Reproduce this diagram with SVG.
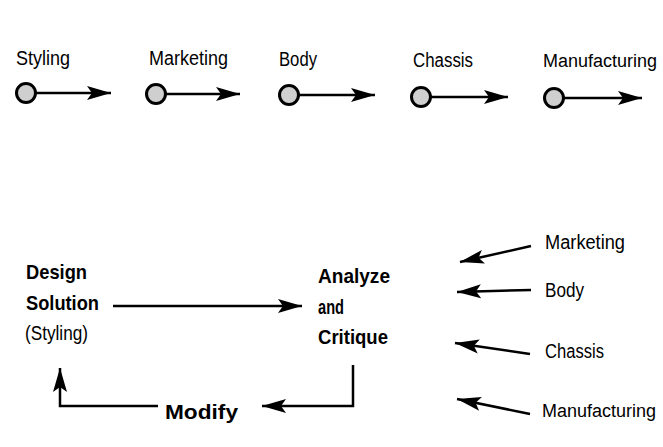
<svg xmlns="http://www.w3.org/2000/svg" width="663" height="447" viewBox="0 0 663 447">
<style>
.t{font-family:"Liberation Sans",Arial,sans-serif;font-size:20px;fill:#000}
.m{font-family:"Liberation Sans",Arial,sans-serif;font-size:18px;fill:#000}
.b{font-family:"Liberation Sans",Arial,sans-serif;font-size:21px;font-weight:bold;fill:#000}
.n{font-family:"Liberation Sans",Arial,sans-serif;font-size:20px;fill:#000}
.c{fill:#cfcfcf;stroke:#000;stroke-width:3}
.l{fill:none;stroke:#000;stroke-width:2.5;marker-end:url(#ah)}
</style>
<defs>
<marker id="ah" markerUnits="userSpaceOnUse" markerWidth="25" markerHeight="16" viewBox="0 0 25 16" refX="24" refY="8" orient="auto">
<path d="M0,1 L24,8 L0,15 L5,8 z" fill="#000"/>
</marker>
</defs>
<rect width="663" height="447" fill="#fff"/>
<g id="top-styling">
<text class="t" x="16" y="65" textLength="54" lengthAdjust="spacingAndGlyphs">Styling</text>
<circle class="c" cx="26" cy="93" r="9.5"/>
</g>
<g id="top-marketing">
<text class="t" x="149" y="65" textLength="79" lengthAdjust="spacingAndGlyphs">Marketing</text>
<circle class="c" cx="156" cy="94" r="9.5"/>
</g>
<g id="top-body">
<text class="t" x="279" y="66" textLength="38" lengthAdjust="spacingAndGlyphs">Body</text>
<circle class="c" cx="289" cy="95" r="9.5"/>
</g>
<g id="top-chassis">
<text class="t" x="413" y="67" textLength="60" lengthAdjust="spacingAndGlyphs">Chassis</text>
<circle class="c" cx="421" cy="97" r="9.5"/>
</g>
<g id="top-manufacturing">
<text class="m" x="543" y="67" textLength="114" lengthAdjust="spacingAndGlyphs">Manufacturing</text>
<circle class="c" cx="554" cy="98" r="9.5"/>
</g>
<g id="design">
<text class="b" x="26" y="279" textLength="61" lengthAdjust="spacingAndGlyphs">Design</text>
<text class="b" x="26" y="310" textLength="73" lengthAdjust="spacingAndGlyphs">Solution</text>
<text class="n" x="25" y="340" textLength="63" lengthAdjust="spacingAndGlyphs">(Styling)</text>
</g>
<g id="analyze">
<text class="b" x="318" y="283" textLength="72" lengthAdjust="spacingAndGlyphs">Analyze</text>
<text class="b" x="318" y="314" textLength="26" lengthAdjust="spacingAndGlyphs">and</text>
<text class="b" x="318" y="344" textLength="70" lengthAdjust="spacingAndGlyphs">Critique</text>
</g>
<g id="modify">
<text class="b" x="165" y="419" textLength="73" lengthAdjust="spacingAndGlyphs">Modify</text>
</g>
<g id="marketing">
<text class="t" x="545" y="249" textLength="80" lengthAdjust="spacingAndGlyphs">Marketing</text>
</g>
<g id="body">
<text class="t" x="545" y="297" textLength="39" lengthAdjust="spacingAndGlyphs">Body</text>
</g>
<g id="chassis">
<text class="t" x="545" y="358" textLength="59" lengthAdjust="spacingAndGlyphs">Chassis</text>
</g>
<g id="manufacturing">
<text class="m" x="542" y="417" textLength="114" lengthAdjust="spacingAndGlyphs">Manufacturing</text>
</g>
<g id="connectors">
<line class="l" x1="36" y1="93" x2="111" y2="93"/>
<line class="l" x1="166" y1="94" x2="240" y2="94"/>
<line class="l" x1="299" y1="95" x2="375" y2="95"/>
<line class="l" x1="431" y1="97" x2="508" y2="97"/>
<line class="l" x1="564" y1="98" x2="642" y2="98"/>
<line class="l" x1="113" y1="306" x2="302" y2="306"/>
<path class="l" d="M353,365 V406 H262"/>
<path class="l" d="M158,406 H60 V368"/>
<line class="l" x1="531" y1="246" x2="460" y2="262"/>
<line class="l" x1="531" y1="290" x2="457" y2="292"/>
<line class="l" x1="530" y1="354" x2="455" y2="343"/>
<line class="l" x1="530" y1="414" x2="457" y2="399"/>
</g>
</svg>
